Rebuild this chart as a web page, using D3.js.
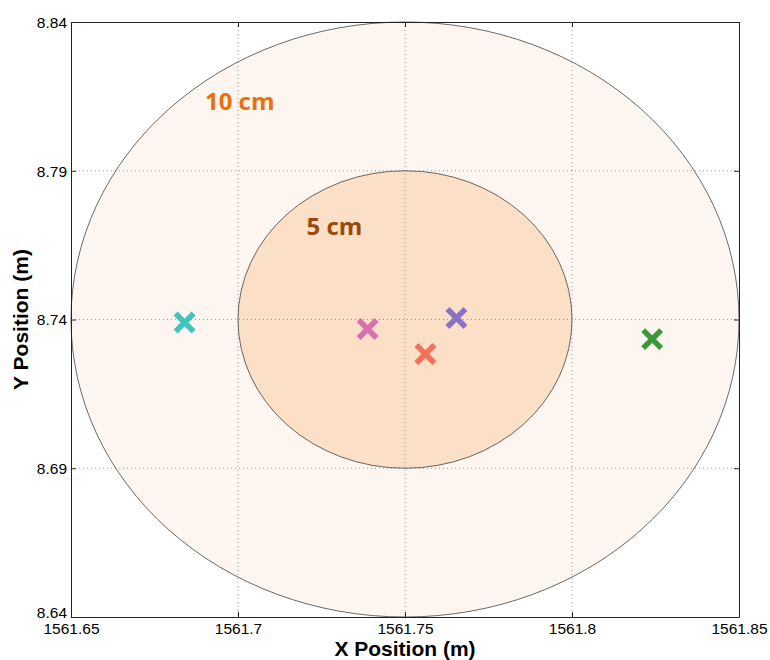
<!DOCTYPE html>
<html>
<head>
<meta charset="utf-8">
<script src="https://cdn.jsdelivr.net/npm/d3@7"></script>
<style>
  body { margin: 0; background: #fff; }
</style>
</head>
<body>
<div id="vis"></div>
<script>
const FRAME_WIDTH = 770;
const FRAME_HEIGHT = 660;
const MARGINS = {left: 71, right: 31, top: 22, bottom: 43};

// data
const X_TICKS = [1561.65, 1561.7, 1561.75, 1561.8, 1561.85];
const Y_TICKS = [8.64, 8.69, 8.74, 8.79, 8.84];
const CENTER = {x: 1561.75, y: 8.74};
const RADII = [0.1, 0.05];
const RING_LABELS = ["10 cm", "5 cm"];
const RING_FILLS = ["#fdf5f0", "#fbdfc6"];
const RING_TEXT_COLORS = ["#ea700e", "#9b4a08"];
const RING_LABEL_POS = [[1561.6901, 8.8105], [1561.7205, 8.7685]];
const PTS_X = [1561.684, 1561.7388, 1561.7561, 1561.7654, 1561.824];
const PTS_Y = [8.739, 8.7368, 8.7284, 8.7405, 8.7334];
const PTS_COLORS = ["#3fc5bf", "#d970b1", "#f3705a", "#8872c6", "#3e9839"];

const VIS_WIDTH = FRAME_WIDTH - MARGINS.left - MARGINS.right;
const VIS_HEIGHT = FRAME_HEIGHT - MARGINS.top - MARGINS.bottom;

const FRAME = d3.select("#vis")
  .append("svg")
    .attr("width", FRAME_WIDTH)
    .attr("height", FRAME_HEIGHT);

const X_SCALE = d3.scaleLinear().domain([1561.65, 1561.85]).range([0, VIS_WIDTH]);
const Y_SCALE = d3.scaleLinear().domain([8.64, 8.84]).range([VIS_HEIGHT, 0]);

const G = FRAME.append("g")
  .attr("transform", "translate(" + MARGINS.left + "," + MARGINS.top + ")");

// rings
G.selectAll(".ring")
  .data(RADII)
  .enter()
  .append("ellipse")
    .attr("cx", X_SCALE(CENTER.x))
    .attr("cy", Y_SCALE(CENTER.y))
    .attr("rx", (d) => X_SCALE(CENTER.x + d) - X_SCALE(CENTER.x))
    .attr("ry", (d) => Y_SCALE(CENTER.y - d) - Y_SCALE(CENTER.y))
    .attr("fill", (d, i) => RING_FILLS[i])
    .attr("stroke", "#444")
    .attr("stroke-width", 0.8);

// grid
G.selectAll(".gx")
  .data(X_TICKS.slice(1, -1))
  .enter()
  .append("line")
    .attr("x1", (d) => X_SCALE(d)).attr("x2", (d) => X_SCALE(d))
    .attr("y1", 0).attr("y2", VIS_HEIGHT)
    .attr("stroke", "#555").attr("stroke-width", 0.7)
    .attr("stroke-dasharray", "1,3").attr("opacity", 0.8);

G.selectAll(".gy")
  .data(Y_TICKS.slice(1, -1))
  .enter()
  .append("line")
    .attr("y1", (d) => Y_SCALE(d)).attr("y2", (d) => Y_SCALE(d))
    .attr("x1", 0).attr("x2", VIS_WIDTH)
    .attr("stroke", "#555").attr("stroke-width", 0.7)
    .attr("stroke-dasharray", "1,3").attr("opacity", 0.8);

// ring labels
G.selectAll(".rlab")
  .data(RING_LABELS)
  .enter()
  .append("text")
    .attr("x", (d, i) => X_SCALE(RING_LABEL_POS[i][0]))
    .attr("y", (d, i) => Y_SCALE(RING_LABEL_POS[i][1]))
    .attr("fill", (d, i) => RING_TEXT_COLORS[i])
    .attr("font-family", "'Open Sans', sans-serif")
    .attr("font-weight", "bold")
    .attr("font-size", "24px")
    .text((d) => d);

// markers
const S = 9;
G.selectAll(".pt")
  .data(PTS_X)
  .enter()
  .append("path")
    .attr("d", (d, i) => {
      const x = X_SCALE(d), y = Y_SCALE(PTS_Y[i]);
      return "M" + (x - S) + "," + (y - S) + "L" + (x + S) + "," + (y + S) +
             "M" + (x - S) + "," + (y + S) + "L" + (x + S) + "," + (y - S);
    })
    .attr("stroke", (d, i) => PTS_COLORS[i])
    .attr("stroke-width", 5.5)
    .attr("fill", "none");

// axes
const xAxis = G.append("g")
  .attr("transform", "translate(0," + VIS_HEIGHT + ")")
  .call(d3.axisBottom(X_SCALE).tickValues(X_TICKS).tickFormat((d) => String(+d.toFixed(2)))
    .tickSizeInner(-5).tickSizeOuter(0).tickPadding(6));
const yAxis = G.append("g")
  .call(d3.axisLeft(Y_SCALE).tickValues(Y_TICKS).tickFormat(d3.format(".2f"))
    .tickSizeInner(-5).tickSizeOuter(0).tickPadding(4));
const xAxisTop = G.append("g")
  .call(d3.axisTop(X_SCALE).tickValues(X_TICKS).tickFormat("").tickSizeInner(-5).tickSizeOuter(0));
const yAxisRight = G.append("g")
  .attr("transform", "translate(" + VIS_WIDTH + ",0)")
  .call(d3.axisRight(Y_SCALE).tickValues(Y_TICKS).tickFormat("").tickSizeInner(-5).tickSizeOuter(0));
[xAxis, yAxis, xAxisTop, yAxisRight].forEach((a) => {
  a.selectAll("path, line").attr("stroke", "#222");
  a.selectAll(".tick text")
    .attr("font-family", "'Liberation Sans', Arial, sans-serif")
    .attr("font-size", "15.5px")
    .attr("fill", "#000");
});
yAxis.selectAll(".tick text").attr("dy", "0.35em");
// lowest y label sits just above the x labels
yAxis.selectAll(".tick text").filter((d) => d === 8.64).attr("dy", "0.05em");

// axis titles
FRAME.append("text")
  .attr("x", MARGINS.left + VIS_WIDTH / 2)
  .attr("y", 656)
  .attr("text-anchor", "middle")
  .attr("font-family", "'Liberation Sans', Arial, sans-serif")
  .attr("font-weight", "bold")
  .attr("font-size", "21px")
  .text("X Position (m)");

FRAME.append("text")
  .attr("transform", "translate(28," + (MARGINS.top + VIS_HEIGHT / 2) + ") rotate(-90)")
  .attr("text-anchor", "middle")
  .attr("font-family", "'Liberation Sans', Arial, sans-serif")
  .attr("font-weight", "bold")
  .attr("font-size", "21px")
  .text("Y Position (m)");
</script>
</body>
</html>
